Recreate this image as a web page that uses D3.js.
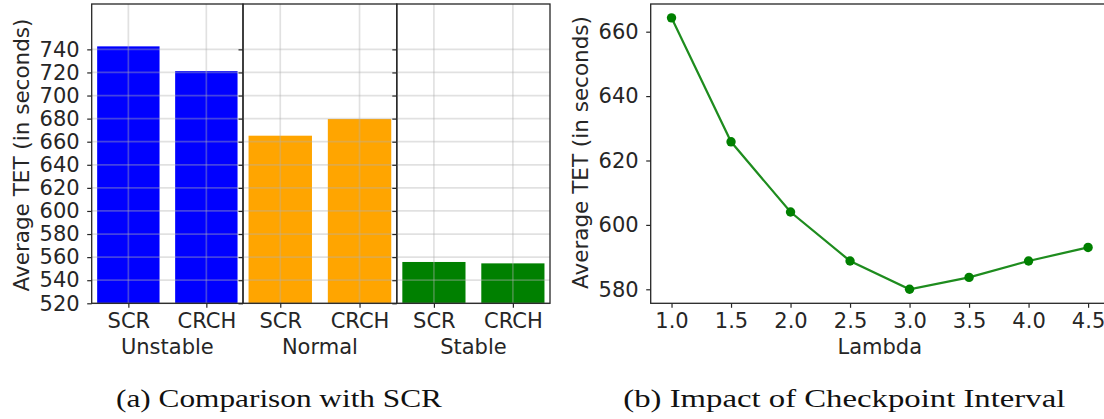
<!DOCTYPE html>
<html><head><meta charset="utf-8">
<script src="https://cdn.jsdelivr.net/npm/d3@7"></script>
<style>
html,body{margin:0;padding:0;background:#fff;overflow:hidden;}
svg text{font-family:"DejaVu Sans",sans-serif;fill:#262626;}
</style></head>
<body>
<svg id="chart" width="1104" height="419"></svg>
<script>
// ---- data ----
const groups = ["Unstable", "Normal", "Stable"];
const methods = ["SCR", "CRCH"];
const scrValues = [742.6, 665.2, 555.8];
const crchValues = [721.2, 679.7, 554.6];
const barYTicks = [520,540,560,580,600,620,640,660,680,700,720,740];

const lambdas = [1.0, 1.5, 2.0, 2.5, 3.0, 3.5, 4.0, 4.5];
const tetValues = [664.3, 625.8, 604.0, 588.8, 580.0, 583.7, 588.8, 593.0];
const lineYTicks = [580, 600, 620, 640, 660];
const lineXTicks = [1.0, 1.5, 2.0, 2.5, 3.0, 3.5, 4.0, 4.5];

const captionA = "(a) Comparison with SCR";
const captionB = "(b) Impact of Checkpoint Interval";
const yLabel = "Average TET (in seconds)";

// ---- styles ----
const groupColors = ["#0000ff", "#ffa500", "#008000"];
const frameColor = "#262626";
const fs = 21;

const svg = d3.select("#chart");

// ================= Left chart =================
const L = {top: 4, bottom: 303.3, edges: [91.7, 243, 396.8, 550]};
const yBar = d3.scaleLinear().domain([520, 779.3]).range([L.bottom, L.top]);

groups.forEach((g, i) => {
  const x0 = L.edges[i], x1 = L.edges[i + 1];
  const x = d3.scaleLinear().domain([-0.47, 1.47]).range([x0, x1]);
  const vals = [scrValues[i], crchValues[i]];
  const p = svg.append("g");

  p.selectAll("rect.bar").data(vals).enter().append("rect")
    .attr("x", (d, j) => x(j - 0.4))
    .attr("width", (d, j) => x(j + 0.4) - x(j - 0.4))
    .attr("y", d => yBar(d))
    .attr("height", d => yBar(520) - yBar(d))
    .attr("fill", groupColors[i]);

  const grid = p.append("g").attr("stroke", "#b0b0b0").attr("stroke-opacity", 0.38).attr("stroke-width", 1.7);
  grid.selectAll("line.h").data(barYTicks).enter().append("line")
    .attr("x1", x0).attr("x2", x1).attr("y1", d => yBar(d)).attr("y2", d => yBar(d));
  grid.selectAll("line.v").data([0, 1]).enter().append("line")
    .attr("x1", d => x(d)).attr("x2", d => x(d)).attr("y1", L.top).attr("y2", L.bottom);

  const ya = d3.axisLeft(yBar).tickValues(barYTicks).tickSize(4.5).tickPadding(7.5).tickFormat(i === 0 ? d3.format("d") : () => "");
  const yg = p.append("g").attr("transform", `translate(${x0},0)`).call(ya);
  yg.select(".domain").remove();
  yg.selectAll("line").attr("stroke", frameColor).attr("stroke-width", 1.2);
  yg.selectAll("text").attr("font-size", fs).attr("fill", "#262626").attr("font-family", "DejaVu Sans");

  const xa = d3.axisBottom(x).tickValues([0, 1]).tickSize(4.5).tickPadding(5).tickFormat(d => methods[d]);
  const xg = p.append("g").attr("transform", `translate(0,${L.bottom})`).call(xa);
  xg.select(".domain").remove();
  xg.selectAll("line").attr("stroke", frameColor).attr("stroke-width", 1.2);
  xg.selectAll("text").attr("font-size", fs).attr("fill", "#262626").attr("font-family", "DejaVu Sans");

  p.append("text").attr("x", (x0 + x1) / 2).attr("y", 354.3).attr("text-anchor", "middle")
    .attr("font-size", fs).text(g);

  p.append("rect").attr("x", x0).attr("y", L.top).attr("width", x1 - x0).attr("height", L.bottom - L.top)
    .attr("fill", "none").attr("stroke", frameColor).attr("stroke-width", 1.3);
});

svg.append("text").attr("transform", `translate(29,155) rotate(-90)`).attr("text-anchor", "middle")
  .attr("font-size", 21.5).text(yLabel);

// ================= Right chart =================
const R = {left: 650.7, right: 1108.9, top: 4, bottom: 303.3};
const xL = d3.scaleLinear().domain([0.825, 4.675]).range([R.left, R.right]);
const yL = d3.scaleLinear().domain([575.65, 668.6]).range([R.bottom, R.top]);
const rp = svg.append("g");

const yaR = d3.axisLeft(yL).tickValues(lineYTicks).tickSize(4.5).tickPadding(7.5).tickFormat(d3.format("d"));
const ygR = rp.append("g").attr("transform", `translate(${R.left},0)`).call(yaR);
ygR.select(".domain").remove();
ygR.selectAll("line").attr("stroke", frameColor).attr("stroke-width", 1.2);
ygR.selectAll("text").attr("font-size", fs).attr("fill", "#262626").attr("font-family", "DejaVu Sans");

const xaR = d3.axisBottom(xL).tickValues(lineXTicks).tickSize(4.5).tickPadding(5).tickFormat(d3.format(".1f"));
const xgR = rp.append("g").attr("transform", `translate(0,${R.bottom})`).call(xaR);
xgR.select(".domain").remove();
xgR.selectAll("line").attr("stroke", frameColor).attr("stroke-width", 1.2);
xgR.selectAll("text").attr("font-size", fs).attr("fill", "#262626").attr("font-family", "DejaVu Sans");

const pts = lambdas.map((l, i) => [l, tetValues[i]]);
rp.append("path").datum(pts)
  .attr("d", d3.line().x(d => xL(d[0])).y(d => yL(d[1])))
  .attr("fill", "none").attr("stroke", "#1e8c1e").attr("stroke-width", 2.2);
rp.selectAll("circle").data(pts).enter().append("circle")
  .attr("cx", d => xL(d[0])).attr("cy", d => yL(d[1])).attr("r", 4.7).attr("fill", "#008000");

rp.append("rect").attr("x", R.left).attr("y", R.top).attr("width", R.right - R.left).attr("height", R.bottom - R.top)
  .attr("fill", "none").attr("stroke", frameColor).attr("stroke-width", 1.3);

rp.append("text").attr("x", (R.left + R.right) / 2).attr("y", 354.3).attr("text-anchor", "middle")
  .attr("font-size", fs).text("Lambda");
svg.append("text").attr("transform", `translate(587.5,152.5) rotate(-90)`).attr("text-anchor", "middle")
  .attr("font-size", 21.5).text(yLabel);

// ================= Captions =================
svg.append("text").attr("x", 116).attr("y", 407)
  .style("font-family", "'Liberation Serif', serif").attr("font-size", 26)
  .attr("textLength", 326).attr("lengthAdjust", "spacingAndGlyphs").style("fill", "#111").text(captionA);
svg.append("text").attr("x", 623.3).attr("y", 407)
  .style("font-family", "'Liberation Serif', serif").attr("font-size", 26)
  .attr("textLength", 442).attr("lengthAdjust", "spacingAndGlyphs").style("fill", "#111").text(captionB);
</script>
</body></html>
